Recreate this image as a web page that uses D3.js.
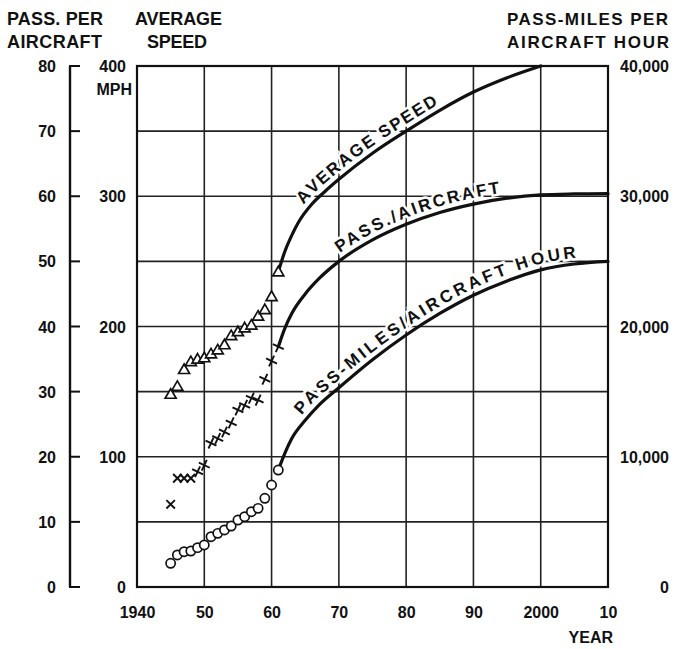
<!DOCTYPE html>
<html><head><meta charset="utf-8">
<script src="https://cdn.jsdelivr.net/npm/d3@7"></script>
<style>
html,body{margin:0;padding:0;background:#fff;}
text{font-family:"Liberation Sans",Arial,sans-serif;font-weight:bold;fill:#111;}
</style></head>
<body>
<svg id="chart" width="675" height="649"></svg>
<script>
// ---- data ----
const obsYears = [1945,1946,1947,1948,1949,1950,1951,1952,1953,1954,1955,1956,1957,1958,1959,1960,1961];
const speedObs = [148,154,167,173,175,176,179,182,186,193,196,199,201,208,213,223,242];
const passObs  = [12.7,16.7,16.7,16.7,17.7,18.7,22.1,22.8,23.8,25.2,27.2,27.9,29.0,28.7,31.9,34.7,36.9];
const pmObs    = [1820,2460,2710,2760,3020,3230,3860,4120,4380,4680,5140,5400,5780,6040,6810,7830,8980];

const speedProjYears = [1961,1962,1963,1964,1966,1968,1970,1975,1980,1985,1990,1995,2000];
const speedProj      = [242,258,270,280,294,304,313,333,350,366,380,391,400];
const passProjYears  = [1961,1962,1963,1965,1967,1970,1975,1980,1985,1990,1995,2000,2005,2010];
const passProj       = [36.9,39.8,42.0,45.0,47.3,50.0,53.3,55.7,57.5,58.8,59.7,60.2,60.35,60.4];
const pmProjYears    = [1961,1962,1963,1965,1967,1970,1975,1980,1985,1990,1995,2000,2005,2010];
const pmProj         = [8980,10300,11400,12800,13950,15300,17450,19350,21000,22400,23500,24350,24800,25000];

const yearTicks  = [1940,1950,1960,1970,1980,1990,2000,2010];
const yearLabels = ["1940","50","60","70","80","90","2000","10"];
const passTicks  = [0,10,20,30,40,50,60,70,80];
const speedTicks = [0,100,200,300,400];
const pmTicks    = [0,10000,20000,30000,40000];
const pmLabels   = ["0","10,000","20,000","30,000","40,000"];

// ---- layout ----
const L=137,R=608,T=66,B=587;
const svg = d3.select("#chart");
const x = d3.scaleLinear().domain([1940,2010]).range([L,R]);
const yPass = d3.scaleLinear().domain([0,80]).range([B,T]);
const ySpeed = d3.scaleLinear().domain([0,400]).range([B,T]);
const yPM = d3.scaleLinear().domain([0,40000]).range([B,T]);

svg.append("rect").attr("width",675).attr("height",649).attr("fill","#fff");

// grid
const grid = svg.append("g").attr("stroke","#222").attr("stroke-width",1.6);
yearTicks.slice(1,-1).forEach(yr=>{
  grid.append("line").attr("x1",x(yr)).attr("x2",x(yr)).attr("y1",T).attr("y2",B);
});
passTicks.slice(1,-1).forEach(p=>{
  grid.append("line").attr("x1",L).attr("x2",R).attr("y1",yPass(p)).attr("y2",yPass(p));
});
svg.append("rect").attr("x",L).attr("y",T).attr("width",R-L).attr("height",B-T)
  .attr("fill","none").attr("stroke","#111").attr("stroke-width",2.2);

// left pass axis
const ax = 70;
svg.append("line").attr("x1",ax).attr("x2",ax).attr("y1",yPass(80)).attr("y2",yPass(0))
  .attr("stroke","#111").attr("stroke-width",2.4);
passTicks.forEach(p=>{
  svg.append("line").attr("x1",ax-1).attr("x2",ax+10).attr("y1",yPass(p)).attr("y2",yPass(p))
    .attr("stroke","#111").attr("stroke-width",2);
  svg.append("text").attr("x",56).attr("y",yPass(p)+6).attr("text-anchor","end")
    .attr("font-size",16).text(p);
});
speedTicks.forEach(s=>{
  svg.append("text").attr("x",126).attr("y",ySpeed(s)+6).attr("text-anchor","end")
    .attr("font-size",16).text(s);
});
svg.append("text").attr("x",132).attr("y",95).attr("text-anchor","end").attr("font-size",16).text("MPH");
pmTicks.forEach((v,i)=>{
  svg.append("text").attr("x",669).attr("y",yPM(v)+6).attr("text-anchor","end")
    .attr("font-size",16).text(pmLabels[i]);
});

// x axis labels
const xAxis = d3.axisBottom(x).tickValues(yearTicks).tickSize(0).tickPadding(0)
  .tickFormat((d,i)=>yearLabels[i]);
const gx = svg.append("g").attr("transform",`translate(0,${B})`).call(xAxis);
gx.select(".domain").remove();
gx.selectAll("text").attr("y",31).attr("dy",0).attr("font-size",16)
  .style("font-family",'"Liberation Sans",Arial,sans-serif').style("font-weight","bold").attr("fill","#111");
svg.append("text").attr("x",613).attr("y",643).attr("text-anchor","end").attr("font-size",16).text("YEAR");

// titles
function title(t,xx,yy,size,len){
  const e = svg.append("text").attr("x",xx).attr("y",yy).attr("font-size",size).text(t);
  if(len) e.attr("textLength",len).attr("lengthAdjust","spacing");
}
title("PASS. PER",7,25,18,96);
title("AIRCRAFT",7,48,18,95);
title("AVERAGE",135,25,18,87);
title("SPEED",147,48,18,60);
title("PASS-MILES PER",507,25,17,161);
title("AIRCRAFT HOUR",507,48,17,162);

// projection curves
const line = d3.line().curve(d3.curveMonotoneX);
function curve(id, xs, ys, yScale){
  return svg.append("path").attr("id",id)
    .attr("d", line(xs.map((v,i)=>[x(v), yScale(ys[i])])))
    .attr("fill","none").attr("stroke","#111").attr("stroke-width",3.2).attr("stroke-linecap","round");
}
const cS = curve("cSpeed", speedProjYears, speedProj, ySpeed);
const cP = curve("cPass", passProjYears, passProj, yPass);
const cM = curve("cPM", pmProjYears, pmProj, yPM);

function offsetAt(path, targetX){
  const n = path.node(); const total = n.getTotalLength();
  let lo=0, hi=total;
  for(let k=0;k<40;k++){ const mid=(lo+hi)/2; if(n.getPointAtLength(mid).x<targetX) lo=mid; else hi=mid; }
  return lo;
}
function curveLabel(path, id, t, startX, ls){
  svg.append("text").attr("font-size",17).attr("dy",-6).style("letter-spacing",ls+"px")
    .attr("stroke","#fff").attr("stroke-width",5).attr("paint-order","stroke")
    .append("textPath").attr("href","#"+id).attr("startOffset",offsetAt(path,startX)).text(t);
}
curveLabel(cS,"cSpeed","AVERAGE SPEED",308,1.8);
curveLabel(cP,"cPass","PASS./AIRCRAFT",343,2.2);
curveLabel(cM,"cPM","PASS-MILES/AIRCRAFT HOUR",306,3.0);
// redraw curves over label halos
[cS,cP,cM].forEach(c=>c.raise());

// observed markers
const mk = svg.append("g").attr("fill","#fff").attr("stroke","#111").attr("stroke-width",1.7);
obsYears.forEach((yr,i)=>{
  // triangles: average speed
  const tx=x(yr), ty=ySpeed(speedObs[i]);
  mk.append("path").attr("d",`M${tx},${ty-5.5}L${tx+5.5},${ty+4}L${tx-5.5},${ty+4}Z`);
  // crosses: pass per aircraft
  const cx=x(yr), cy=yPass(passObs[i]);
  mk.append("path").attr("d","M-6,0L6,0M0,-6L0,6").attr("transform",`translate(${cx},${cy}) rotate(${i<4?45:25})`)
    .attr("stroke-width",1.9);
  // circles: pass-miles per aircraft hour
  mk.append("circle").attr("cx",x(yr)).attr("cy",yPM(pmObs[i])).attr("r",4.6);
});
</script>
</body></html>
